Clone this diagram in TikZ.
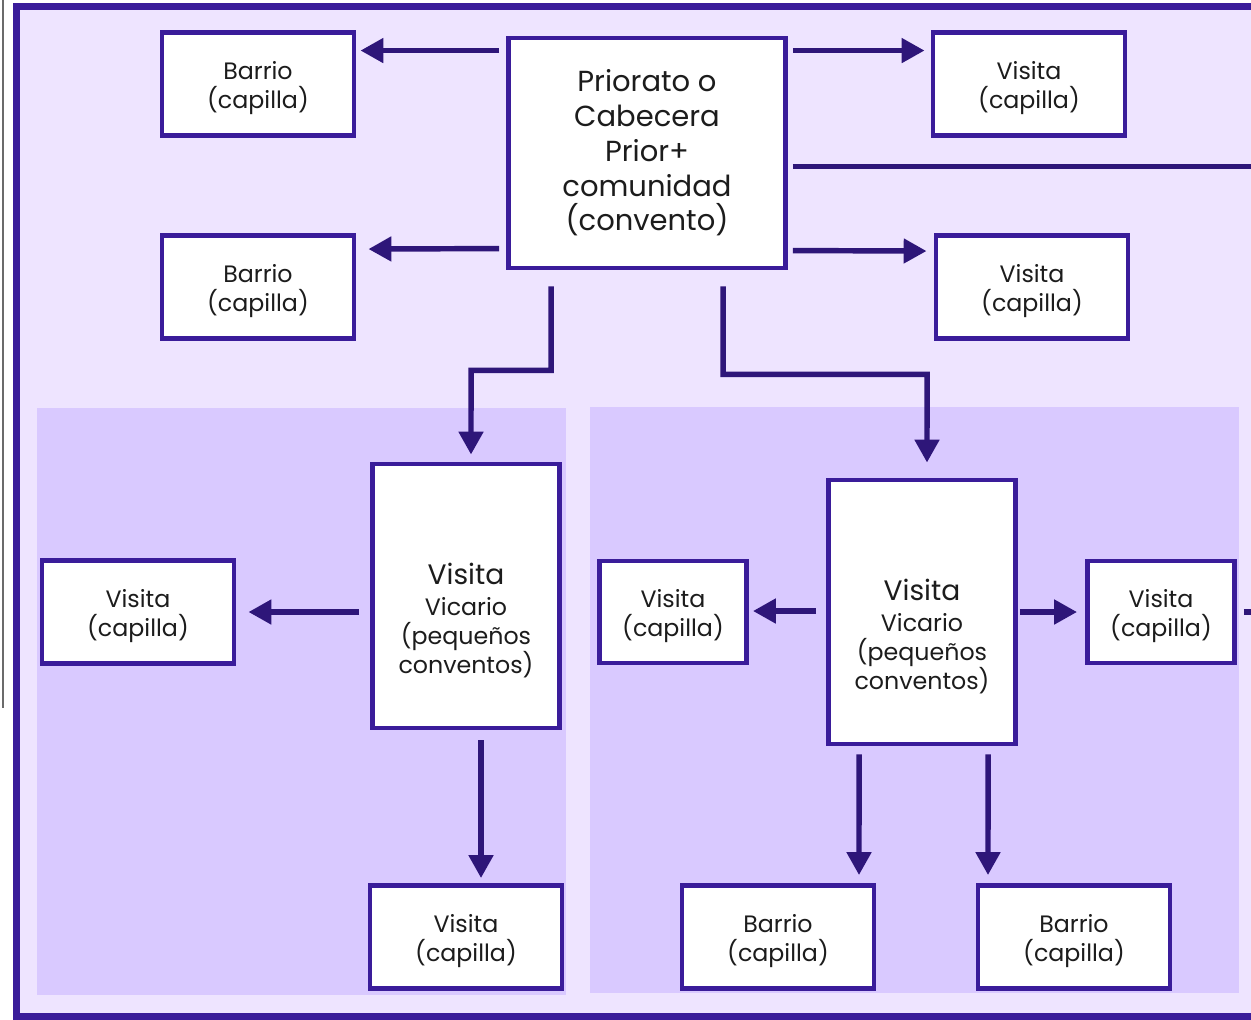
\documentclass[tikz,border=0pt]{standalone}
\usepackage{fontspec}
\setmainfont{Poppins}
\usetikzlibrary{arrows.meta,calc}

\definecolor{framecol}{HTML}{3A1C9A}
\definecolor{arrowcol}{HTML}{2E1679}
\definecolor{backcol}{HTML}{EEE4FF}
\definecolor{panelcol}{HTML}{D9C9FF}
\definecolor{textcol}{HTML}{1C1C1C}

\tikzset{
    txt/.style={align=center, text=textcol, inner sep=0pt,
        font=\fontsize{13.5}{16.6}\selectfont},
    box/.style={draw=framecol, fill=white, line width=2.8pt, inner sep=0pt},
    smallbox/.style={box, minimum width=192*0.02cm, minimum height=103*0.02cm,
        label={[txt, yshift=-2.5pt]center:{#1}}},
    narrowbox/.style={box, minimum width=147*0.02cm, minimum height=102*0.02cm,
        label={[txt, yshift=-2.5pt]center:{#1}}},
    vicbox/.style={box, minimum width=187*0.02cm, minimum height=264*0.02cm,
        label={[txt, yshift=-14pt]center:{{\fontsize{16}{16.6}\selectfont Visita}\\[1pt]Vicario\\(pequeños\\conventos)}}},
    arr/.style={draw=arrowcol, line width=3.1pt, -{Triangle[length=13pt,width=13.5pt]}},
    plain/.style={draw=arrowcol, line width=3.1pt},
}

\begin{document}
\begin{tikzpicture}[x=0.02cm, y=-0.02cm]
    \useasboundingbox (0,0) rectangle (1251,1019);
    \clip (0,0) rectangle (1251,1019);
    % frame and panels
    \draw[draw=framecol, fill=backcol, line width=4pt] (16.5,6.5) rectangle (1300,1016);
    \fill[panelcol] (37,408) rectangle (566,995);
    \fill[panelcol] (590,407) rectangle (1239,993);
    \draw[color=black!58, line width=1.7pt] (3,0) -- (3,708);

    % top level
    \node[box, txt, minimum width=277*0.02cm, minimum height=230*0.02cm,
        font=\fontsize{16.5}{19.8}\selectfont] (prio) at (647,153)
        {Priorato o\\Cabecera\\Prior+\\comunidad\\(convento)};
    \node[smallbox={Barrio\\(capilla)}] (barA) at (258,84) {};
    \node[smallbox={Barrio\\(capilla)}] (barB) at (258,287) {};
    \node[smallbox={Visita\\(capilla)}] (visA) at (1029,84) {};
    \node[smallbox={Visita\\(capilla)}] (visB) at (1032,287) {};

    % vicarios
    \node[vicbox] (vicL) at (466,596) {};
    \node[vicbox] (vicR) at (922,612) {};

    % lower boxes
    \node[smallbox={Visita\\(capilla)}] (visL) at (138,612) {};
    \node[smallbox={Visita\\(capilla)}] (visLB) at (466,937) {};
    \node[narrowbox={Visita\\(capilla)}] (visM) at (673,612) {};
    \node[narrowbox={Visita\\(capilla)}] (visR) at (1161,612) {};
    \node[smallbox={Barrio\\(capilla)}] (barC) at (778,937) {};
    \node[smallbox={Barrio\\(capilla)}] (barD) at (1074,937) {};

    % connectors
    \draw[arr] ($(prio.north west)+(-7,15)$) -- ($(barA.north east)+(4,20.5)$);
    \draw[arr] ($(prio.north west)+(-7,213)$) -- ($(barB.north east)+(12,16)$);
    \draw[arr] ($(prio.north east)+(5,15)$) -- ($(visA.north west)+(-6,20.5)$);
    \draw[arr] ($(prio.north east)+(5,215)$) -- ($(visB.north west)+(-7,18)$);
    \draw[plain] ($(prio.north east)+(5,131)$) -- ++(500,0);
    \draw[arr] ($(prio.south west)+(45,16)$) |- ++(-80,84) -- ($(vicL.north)+(5,-7)$);
    \draw[arr] ($(prio.south west)+(217,16)$) |- ++(204,88) -- ($(vicR.north)+(5,-15)$);
    \draw[arr] ($(vicL.west)+(-11,16)$) -- ($(visL.east)+(12,0)$);
    \draw[arr] ($(vicL.south)+(15,10)$) -- ($(visLB.north)+(15,-5)$);
    \draw[arr] ($(vicR.west)+(-10,-1)$) -- ($(visM.east)+(4,-1)$);
    \draw[arr] ($(vicR.east)+(2,0)$) -- ($(visR.west)+(-8,0)$);
    \draw[arr] ($(vicR.south west)+(33,8)$) -- ($(barC.north)+(81,-8)$);
    \draw[arr] ($(vicR.south west)+(162,8)$) -- ($(barD.north)+(-86,-8)$);
    \draw[plain] ($(visR.east)+(7,0)$) -- ++(40,0);
\end{tikzpicture}
\end{document}
